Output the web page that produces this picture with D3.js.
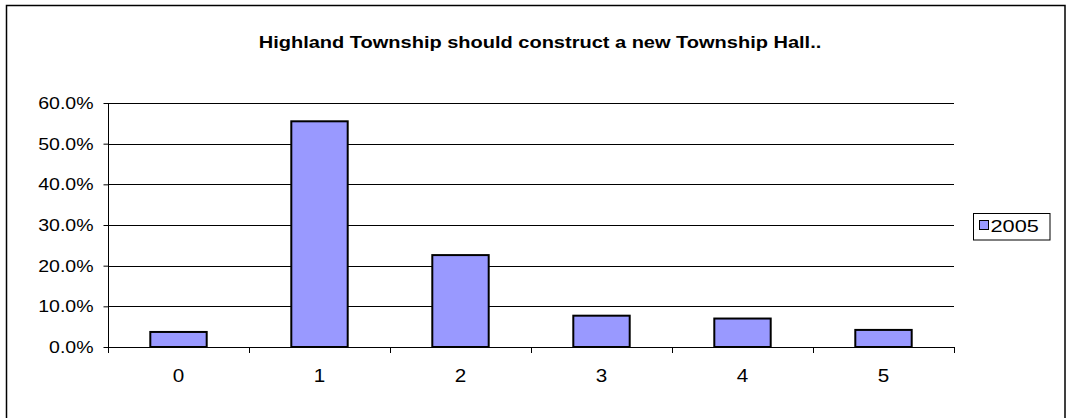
<!DOCTYPE html>
<html><head><meta charset="utf-8">
<script src="https://cdn.jsdelivr.net/npm/d3@7"></script>
<style>body{margin:0;background:#fff}svg{display:block}text{font-family:"Liberation Sans",Arial,sans-serif}</style>
</head><body>
<script>
const categories = ["0","1","2","3","4","5"];
const values2005 = [0.037, 0.555, 0.226, 0.077, 0.070, 0.042];
const yTicks = [0,0.1,0.2,0.3,0.4,0.5,0.6];
const seriesName = "2005";
const chartTitle = "Highland Township should construct a new Township Hall..";

(function(){
const W=1066,H=418;
const svg=d3.select("body").append("svg").attr("width",W).attr("height",H);
svg.append("rect").attr("x",6.5).attr("y",5.5).attr("width",1058.5).attr("height",430)
  .attr("fill","#fff").attr("stroke","#000").attr("stroke-width",1.5);

const pL=108,pR=954,pT=103,pB=347;
const x=d3.scaleBand().domain(categories).range([pL,pR]).paddingInner(0.6).paddingOuter(0.3);
const xb=d3.scaleBand().domain(categories).range([pL,pR]);
const y=d3.scaleLinear().domain([0,0.6]).range([pB,pT]);

function stext(g,xx,yy,str,size,sx,anchor,weight){
  return g.append("text").attr("transform",`translate(${xx},${yy}) scale(${sx},1)`)
    .attr("text-anchor",anchor).attr("font-size",size).attr("font-weight",weight||"normal").attr("fill","#000").text(str);
}

// grid
svg.append("g").selectAll("line").data(yTicks.slice(1)).join("line")
  .attr("x1",pL).attr("x2",pR).attr("y1",d=>Math.round(y(d))+0.5).attr("y2",d=>Math.round(y(d))+0.5)
  .attr("stroke","#000").attr("stroke-width",1);

// bars
svg.append("g").selectAll("rect").data(values2005).join("rect")
  .attr("x",(d,i)=>x(categories[i])).attr("width",x.bandwidth())
  .attr("y",d=>y(d)).attr("height",d=>pB-y(d))
  .attr("fill","#9999FF").attr("stroke","#000").attr("stroke-width",2);

// y axis
const ya=svg.append("g").attr("transform",`translate(${pL+0.5},0)`)
  .call(d3.axisLeft(y).tickValues(yTicks).tickSize(5).tickFormat(""));
ya.selectAll("path,line").attr("stroke","#000");
ya.select(".domain").attr("d",`M0,${pT}V${pB}`);
yTicks.forEach(t=>stext(svg,93.5,y(t)+6,d3.format(".1%")(t),16,1.22,"end"));

// x axis
const xa=svg.append("g").attr("transform",`translate(0,${pB+0.5})`)
  .call(d3.axisBottom(xb).tickSize(0).tickFormat(""));
xa.selectAll("path,line").attr("stroke","#000");
xa.select(".domain").attr("d",`M${pL},0H${pR}`);
const bounds=categories.map(c=>xb(c)).concat([pR]);
svg.append("g").selectAll("line").data(bounds).join("line")
  .attr("x1",d=>Math.round(d)+0.5).attr("x2",d=>Math.round(d)+0.5).attr("y1",pB).attr("y2",pB+6)
  .attr("stroke","#000");
categories.forEach(c=>stext(svg,xb(c)+xb.bandwidth()/2,382,c,17.5,1.18,"middle"));

// title
stext(svg,540,48,chartTitle,16,1.25,"middle","bold");

// legend
svg.append("rect").attr("x",973.5).attr("y",213.5).attr("width",76.5).attr("height",26.5).attr("fill","#fff").attr("stroke","#000");
svg.append("rect").attr("x",979.5).attr("y",220.5).attr("width",9).attr("height",9).attr("fill","#9999FF").attr("stroke","#000");
stext(svg,990.5,231.5,seriesName,17,1.28,"start");
})();
</script>
</body></html>
